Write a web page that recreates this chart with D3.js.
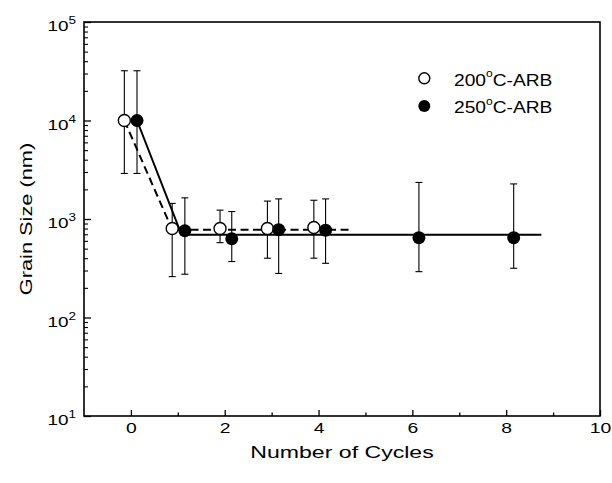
<!DOCTYPE html>
<html>
<head>
<meta charset="utf-8">
<script src="https://cdn.jsdelivr.net/npm/d3@7"></script>
<style>
  body { margin: 0; background: #fff; }
  text { font-family: "Liberation Sans", Arial, sans-serif; fill: #000; }
</style>
</head>
<body>
<svg id="chart"></svg>
<script>
// 200°C-ARB (open circles)
const cycles200 = [-0.14, 0.88, 1.90, 2.91, 3.90];
const grain200 = [10000, 800, 800, 800, 820];
const low200 = [2900, 260, 575, 400, 400];
const high200 = [32000, 1440, 1230, 1520, 1550];

// 250°C-ARB (filled circles)
const cycles250 = [0.13, 1.15, 2.15, 3.15, 4.15, 6.14, 8.16];
const grain250 = [10000, 760, 630, 780, 770, 646, 646];
const low250 = [2900, 275, 370, 280, 355, 292, 316];
const high250 = [32000, 1640, 1190, 1600, 1600, 2350, 2270];

// guide lines drawn through the points
const fit200X = [-0.14, 0.88, 4.73];
const fit200Y = [10000, 780, 780];
const fit250X = [0.13, 1.08, 8.75];
const fit250Y = [10000, 690, 690];

const xTicks = [0, 2, 4, 6, 8, 10];
const xMinor = [1, 3, 5, 7, 9];
const yTicks = [10, 100, 1000, 10000, 100000];
const yExp = ["1", "2", "3", "4", "5"];

const width = 612;
const height = 483;
const plotLeft = 84, plotRight = 600, plotTop = 22, plotBottom = 416;

const svg = d3.select("#chart")
    .attr("width", width)
    .attr("height", height);

const x = d3.scaleLinear().domain([-1, 10]).range([plotLeft, plotRight]);
const y = d3.scaleLog().domain([10, 100000]).range([plotBottom, plotTop]);

// minor y ticks 2..9 per decade
let yMinor = [];
for (let d = 10; d < 100000; d *= 10) {
    for (let k = 2; k <= 9; k++) yMinor.push(d * k);
}

// x axis ticks (inward)
const xAxis = svg.append("g")
    .attr("transform", `translate(0, ${plotBottom})`)
    .call(d3.axisBottom(x).tickValues(xTicks).tickSizeInner(-6).tickSizeOuter(0));
xAxis.select(".domain").remove();
xAxis.selectAll("line").attr("stroke-width", 1.3);
xAxis.selectAll("text")
    .attr("y", 16.7)
    .attr("dy", null)
    .attr("font-size", 14)
    .attr("transform", "scale(1.38,1)")
    .style("font-family", "'Liberation Sans', Arial, sans-serif");

const xAxisMinor = svg.append("g")
    .attr("transform", `translate(0, ${plotBottom})`)
    .call(d3.axisBottom(x).tickValues(xMinor).tickSizeInner(-3.5).tickSizeOuter(0).tickFormat(""));
xAxisMinor.select(".domain").remove();
xAxisMinor.selectAll("line").attr("stroke-width", 1.3);

// y axis ticks (inward)
const yAxis = svg.append("g")
    .attr("transform", `translate(${plotLeft}, 0)`)
    .call(d3.axisLeft(y).tickValues(yTicks).tickSizeInner(-7).tickSizeOuter(0).tickFormat(""));
yAxis.select(".domain").remove();
yAxis.selectAll("line").attr("stroke-width", 1.3);

const yAxisMinor = svg.append("g")
    .attr("transform", `translate(${plotLeft}, 0)`)
    .call(d3.axisLeft(y).tickValues(yMinor).tickSizeInner(-4).tickSizeOuter(0).tickFormat(""));
yAxisMinor.select(".domain").remove();
yAxisMinor.selectAll("line").attr("stroke-width", 1.1);

// y tick labels 10^n
const yLab = svg.append("g").selectAll("g")
    .data(yTicks)
    .enter()
    .append("g")
    .attr("transform", d => `translate(76, ${y(d) + 9}) scale(1.35,1)`);
const yText = yLab.append("text").attr("text-anchor", "end");
yText.append("tspan").attr("font-size", 14).text("10");
yText.append("tspan").attr("font-size", 10).attr("dy", -7).text((d, i) => yExp[i]);

// frame
svg.append("rect")
    .attr("x", plotLeft)
    .attr("y", plotTop)
    .attr("width", plotRight - plotLeft)
    .attr("height", plotBottom - plotTop)
    .attr("fill", "none")
    .attr("stroke", "#000")
    .attr("stroke-width", 1.6);

// axis titles
svg.append("text")
    .attr("transform", `translate(342, 457.7) scale(1.4,1)`)
    .attr("text-anchor", "middle")
    .attr("font-size", 16.5)
    .text("Number of Cycles");

svg.append("text")
    .attr("transform", `translate(32, 219) rotate(-90) scale(1.32,1)`)
    .attr("text-anchor", "middle")
    .attr("font-size", 16.5)
    .text("Grain Size (nm)");

// fit lines
const line = d3.line().x(d => x(d[0])).y(d => y(d[1]));
svg.append("path")
    .datum(fit200X.map((v, i) => [v, fit200Y[i]]))
    .attr("d", line)
    .attr("fill", "none")
    .attr("stroke", "#000")
    .attr("stroke-width", 2)
    .attr("stroke-dasharray", "8,4.5");
svg.append("path")
    .datum(fit250X.map((v, i) => [v, fit250Y[i]]))
    .attr("d", line)
    .attr("fill", "none")
    .attr("stroke", "#000")
    .attr("stroke-width", 2);

// error bars
const drawErr = (xs, lo, hi) => {
    const g = svg.append("g").attr("stroke", "#000").attr("stroke-width", 1.1);
    xs.forEach((v, i) => {
        g.append("line").attr("x1", x(v)).attr("x2", x(v)).attr("y1", y(lo[i])).attr("y2", y(hi[i]));
        g.append("line").attr("x1", x(v) - 3.5).attr("x2", x(v) + 3.5).attr("y1", y(lo[i])).attr("y2", y(lo[i]));
        g.append("line").attr("x1", x(v) - 3.5).attr("x2", x(v) + 3.5).attr("y1", y(hi[i])).attr("y2", y(hi[i]));
    });
};
drawErr(cycles200, low200, high200);
drawErr(cycles250, low250, high250);

// points
svg.append("g").selectAll("circle")
    .data(cycles200)
    .enter()
    .append("circle")
    .attr("cx", d => x(d))
    .attr("cy", (d, i) => y(grain200[i]))
    .attr("r", 6)
    .attr("fill", "#fff")
    .attr("stroke", "#000")
    .attr("stroke-width", 1.4);

svg.append("g").selectAll("circle")
    .data(cycles250)
    .enter()
    .append("circle")
    .attr("cx", d => x(d))
    .attr("cy", (d, i) => y(grain250[i]))
    .attr("r", 6.5)
    .attr("fill", "#000");

// legend
const legend = svg.append("g");
legend.append("circle")
    .attr("cx", 424.3).attr("cy", 78.3).attr("r", 5.5)
    .attr("fill", "#fff").attr("stroke", "#000").attr("stroke-width", 1.4);
legend.append("circle")
    .attr("cx", 424.3).attr("cy", 106).attr("r", 6)
    .attr("fill", "#000");

const legendLabels = [["200", "C-ARB", 85.7], ["250", "C-ARB", 113.3]];
legendLabels.forEach(l => {
    const t = legend.append("text")
        .attr("transform", `translate(454, ${l[2]}) scale(1.2,1)`)
        .attr("font-size", 16);
    t.append("tspan").text(l[0]);
    t.append("tspan").attr("font-size", 10).attr("dy", -8.5).text("o");
    t.append("tspan").attr("dy", 8.5).text(l[1]);
});
</script>
</body>
</html>
